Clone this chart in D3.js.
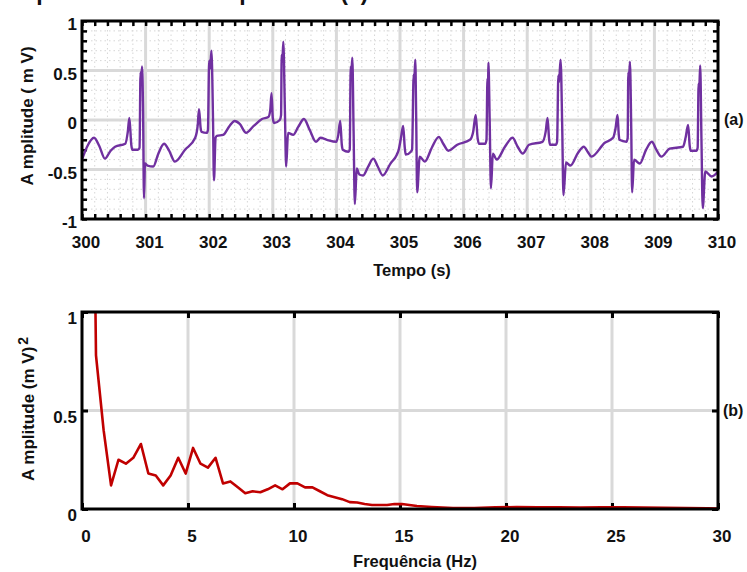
<!DOCTYPE html>
<html>
<head>
<meta charset="utf-8">
<script src="https://cdn.jsdelivr.net/npm/d3@7/dist/d3.min.js"></script>
<style>
  html, body { margin: 0; padding: 0; background: #fff; }
  svg { display: block; }
  text { font-family: "Liberation Sans", Arial, sans-serif; font-weight: bold; fill: #111; }
</style>
</head>
<body>
<svg id="chart" width="747" height="572"></svg>
<script>
// ECG segment, 300–310 s (mV)
const ecgTime = [
  300.00, 300.08, 300.19, 300.27, 300.36, 300.45, 300.52, 300.68, 300.72, 300.745,
  300.775, 300.79, 300.88, 300.905, 300.92, 300.93, 300.945, 300.96, 300.975, 300.99,
  301.03, 301.12, 301.20, 301.29, 301.37, 301.46, 301.62, 301.78, 301.82, 301.84,
  301.865, 301.88, 301.96, 301.98, 302.00, 302.015, 302.035, 302.06, 302.075, 302.10,
  302.12, 302.22, 302.32, 302.40, 302.48, 302.58, 302.70, 302.83, 302.93, 302.96,
  302.98, 303.00, 303.02, 303.11, 303.13, 303.14, 303.15, 303.165, 303.19, 303.21,
  303.24, 303.32, 303.40, 303.49, 303.58, 303.68, 303.75, 303.85, 304.00, 304.03,
  304.06, 304.085, 304.10, 304.19, 304.21, 304.225, 304.235, 304.25, 304.27, 304.29,
  304.32, 304.36, 304.42, 304.50, 304.58, 304.65, 304.73, 304.85, 304.95, 304.98,
  305.01, 305.05, 305.075, 305.09, 305.17, 305.19, 305.215, 305.225, 305.24, 305.255,
  305.27, 305.31, 305.39, 305.50, 305.61, 305.68, 305.76, 305.90, 306.10, 306.15,
  306.19, 306.22, 306.24, 306.34, 306.36, 306.375, 306.385, 306.39, 306.41, 306.43,
  306.46, 306.52, 306.65, 306.77, 306.85, 306.93, 307.03, 307.24, 307.29, 307.32,
  307.345, 307.36, 307.45, 307.47, 307.49, 307.50, 307.525, 307.55, 307.57, 307.61,
  307.68, 307.80, 307.89, 307.95, 308.01, 308.22, 308.35, 308.39, 308.42, 308.44,
  308.45, 308.56, 308.58, 308.59, 308.60, 308.615, 308.635, 308.65, 308.68, 308.77,
  308.87, 308.96, 309.03, 309.11, 309.24, 309.45, 309.49, 309.53, 309.555, 309.57,
  309.66, 309.68, 309.695, 309.705, 309.72, 309.74, 309.76, 309.80, 309.90, 310.00
];
const ecgAmplitude = [
  -0.40, -0.27, -0.18, -0.26, -0.39, -0.31, -0.27, -0.24, -0.12, 0.02,
  -0.25, -0.30, -0.30, -0.28, 0.48, 0.40, 0.54, 0.10, -0.79, -0.44,
  -0.46, -0.47, -0.34, -0.24, -0.31, -0.42, -0.30, -0.18, -0.05, 0.11,
  -0.08, -0.12, -0.13, -0.10, 0.60, 0.52, 0.70, 0.00, -0.61, -0.18,
  -0.16, -0.15, -0.06, -0.01, -0.04, -0.13, -0.06, 0.01, 0.03, 0.10,
  0.27, 0.02, -0.03, 0.00, 0.05, 0.66, 0.58, 0.79, 0.10, -0.47,
  -0.13, -0.15, -0.07, 0.01, -0.10, -0.22, -0.18, -0.20, -0.22, -0.15,
  -0.01, -0.25, -0.30, -0.32, -0.30, 0.54, 0.46, 0.63, -0.10, -0.85,
  -0.49, -0.55, -0.56, -0.47, -0.39, -0.47, -0.56, -0.44, -0.35, -0.30,
  -0.20, -0.06, -0.28, -0.35, -0.32, -0.30, 0.46, 0.40, 0.61, 0.00,
  -0.73, -0.37, -0.42, -0.28, -0.17, -0.24, -0.31, -0.25, -0.20, -0.12,
  0.05, -0.18, -0.24, -0.24, -0.20, 0.42, 0.36, 0.58, 0.00, -0.69,
  -0.34, -0.40, -0.27, -0.18, -0.27, -0.34, -0.25, -0.22, -0.12, 0.02,
  -0.20, -0.25, -0.25, -0.22, 0.45, 0.38, 0.61, -0.05, -0.76, -0.43,
  -0.46, -0.33, -0.27, -0.32, -0.37, -0.23, -0.18, -0.08, 0.05, -0.15,
  -0.20, -0.22, -0.18, 0.48, 0.40, 0.59, -0.05, -0.73, -0.40, -0.44,
  -0.30, -0.22, -0.30, -0.37, -0.29, -0.27, -0.18, -0.05, -0.26, -0.31,
  -0.31, -0.28, 0.37, 0.32, 0.55, -0.20, -0.89, -0.52, -0.57, -0.52
];

// Power spectrum of the segment
const spectrumFreq = [
  0.31, 0.66, 1.02, 1.37, 1.72, 2.07, 2.42, 2.78, 3.13, 3.48,
  3.83, 4.18, 4.54, 4.89, 5.24, 5.59, 5.94, 6.30, 6.65, 7.00,
  7.35, 7.70, 8.05, 8.41, 8.76, 9.11, 9.46, 9.81, 10.16, 10.52,
  10.87, 11.22, 11.57, 11.92, 12.27, 12.63, 12.98, 13.33, 13.68, 14.03,
  14.39, 14.74, 15.09, 15.44, 15.80, 16.5, 17.5, 18.5, 19.5, 20.5,
  21.5, 22.5, 23.5, 24.5, 25.5, 26.5, 27.5, 28.5, 29.5, 30.0
];
const spectrumPower = [
  4.0, 0.78, 0.40, 0.12, 0.25, 0.23, 0.26, 0.33, 0.18, 0.17,
  0.12, 0.17, 0.26, 0.18, 0.31, 0.23, 0.21, 0.26, 0.13, 0.14,
  0.11, 0.08, 0.09, 0.085, 0.10, 0.12, 0.10, 0.13, 0.13, 0.11,
  0.11, 0.09, 0.07, 0.06, 0.05, 0.035, 0.033, 0.025, 0.02, 0.02,
  0.02, 0.025, 0.025, 0.02, 0.015, 0.01, 0.005, 0.005, 0.008, 0.01,
  0.008, 0.008, 0.007, 0.008, 0.008, 0.007, 0.006, 0.005, 0.003, 0.002
];

// Tick values and labels
const timeTicks = [300, 301, 302, 303, 304, 305, 306, 307, 308, 309, 310];
const ampTicks = [-1, -0.5, 0, 0.5, 1];
const ampTickLabels = ["-1", "-0.5", "0", "0.5", "1"];
const freqTicks = [0, 5, 10, 15, 20, 25, 30];
const powerTicks = [0, 0.5, 1];
const powerTickLabels = ["0", "0.5", "1"];

const titleText = "Espectro do sinal de potência (a)";
const topTitleX = "Tempo (s)";
const topTitleY = "A mplitude ( m V)";
const bottomTitleX = "Frequência (Hz)";
const bottomTitleY = "A mplitude (m V)";

const svg = d3.select("#chart");
const ecgColor = "#7030a0";
const specColor = "#c00000";
const gridColor = "#d9d9d9";

// Title, mostly above the visible area
svg.append("text").attr("x", 8).attr("y", -0.5)
  .style("font-size", "23px").text(titleText);

function frame(g, x0, x1, y0, y1) {
  g.append("rect").attr("x", x0).attr("y", y0)
    .attr("width", x1 - x0).attr("height", y1 - y0)
    .attr("fill", "none").attr("stroke", "#000").attr("stroke-width", 3);
}

function styleTicks(sel, w) {
  sel.select(".domain").remove();
  sel.selectAll(".tick line").attr("stroke", "#000").attr("stroke-width", w);
  sel.selectAll(".tick text").remove();
}

// ---------- (a) ECG in time ----------
{
  const x = d3.scaleLinear().domain([300, 310]).range([82, 718]);
  const y = d3.scaleLinear().domain([-1, 1]).range([219, 21]);
  const g = svg.append("g");

  const minorX = d3.range(300, 310.001, 0.2).filter(v => Math.abs(v - Math.round(v)) > 0.01);
  const minorY = d3.range(-1, 1.001, 0.1).filter(v => Math.abs(v * 2 - Math.round(v * 2)) > 0.01);

  // dotted minor grid
  g.append("g").selectAll("line.mx").data(minorX).join("line")
    .attr("x1", d => x(d)).attr("x2", d => x(d)).attr("y1", y(1)).attr("y2", y(-1))
    .attr("stroke", "#d6d6d6").attr("stroke-width", 1).attr("stroke-dasharray", "1.5 3");
  g.append("g").selectAll("line.my").data(minorY).join("line")
    .attr("x1", x(300)).attr("x2", x(310)).attr("y1", d => y(d)).attr("y2", d => y(d))
    .attr("stroke", "#d6d6d6").attr("stroke-width", 1).attr("stroke-dasharray", "1.5 3");

  // major grid
  g.append("g").selectAll("line").data(timeTicks.slice(1, -1)).join("line")
    .attr("x1", d => x(d)).attr("x2", d => x(d)).attr("y1", y(1)).attr("y2", y(-1))
    .attr("stroke", gridColor).attr("stroke-width", 3);
  g.append("g").selectAll("line").data(ampTicks.slice(1, -1)).join("line")
    .attr("x1", x(300)).attr("x2", x(310)).attr("y1", d => y(d)).attr("y2", d => y(d))
    .attr("stroke", gridColor).attr("stroke-width", 3);

  // inward ticks on all four sides
  const allX = timeTicks.concat(minorX);
  const allY = ampTicks.concat(minorY);
  g.append("g").attr("transform", `translate(0,${y(-1)})`)
    .call(d3.axisBottom(x).tickValues(allX).tickSize(-5)).call(s => styleTicks(s, 2.5));
  g.append("g").attr("transform", `translate(0,${y(1)})`)
    .call(d3.axisTop(x).tickValues(allX).tickSize(-5)).call(s => styleTicks(s, 2.5));
  g.append("g").attr("transform", `translate(${x(300)},0)`)
    .call(d3.axisLeft(y).tickValues(allY).tickSize(-5)).call(s => styleTicks(s, 2.5));
  g.append("g").attr("transform", `translate(${x(310)},0)`)
    .call(d3.axisRight(y).tickValues(allY).tickSize(-5)).call(s => styleTicks(s, 2.5));

  g.append("clipPath").attr("id", "clipA").append("rect")
    .attr("x", 82).attr("y", 21).attr("width", 636).attr("height", 198);

  const line = d3.line().curve(d3.curveMonotoneX)
    .x(i => x(ecgTime[i])).y(i => y(ecgAmplitude[i]));
  g.append("path").attr("clip-path", "url(#clipA)")
    .attr("d", line(d3.range(ecgTime.length)))
    .attr("fill", "none").attr("stroke", ecgColor).attr("stroke-width", 2.4)
    .attr("stroke-linejoin", "round");

  frame(g, 82, 718, 21, 219);

  // tick labels
  g.append("g").selectAll("text").data(timeTicks).join("text")
    .attr("x", d => x(d) + 4).attr("y", 248).attr("text-anchor", "middle")
    .style("font-size", "17px").text(d => d);
  g.append("g").selectAll("text").data(ampTicks).join("text")
    .attr("x", 77).attr("y", d => y(d) + 9).attr("text-anchor", "end")
    .style("font-size", "17px").text((d, i) => ampTickLabels[i]);

  g.append("text").attr("x", 412).attr("y", 276).attr("text-anchor", "middle")
    .style("font-size", "16.5px").text(topTitleX);
  g.append("text").attr("transform", "translate(33,116) rotate(-90)")
    .attr("text-anchor", "middle").style("font-size", "17px").text(topTitleY);
  g.append("text").attr("x", 724).attr("y", 125).style("font-size", "16px").text("(a)");
}

// ---------- (b) spectrum ----------
{
  const x = d3.scaleLinear().domain([0, 30]).range([82, 718]);
  const y = d3.scaleLinear().domain([0, 1]).range([509, 312]);
  const g = svg.append("g");

  g.append("g").selectAll("line").data(freqTicks.slice(1, -1)).join("line")
    .attr("x1", d => x(d)).attr("x2", d => x(d)).attr("y1", y(1)).attr("y2", y(0))
    .attr("stroke", gridColor).attr("stroke-width", 3);
  g.append("g").selectAll("line").data(powerTicks.slice(1, -1)).join("line")
    .attr("x1", x(0)).attr("x2", x(30)).attr("y1", d => y(d)).attr("y2", d => y(d))
    .attr("stroke", gridColor).attr("stroke-width", 3);

  g.append("g").attr("transform", `translate(0,${y(0)})`)
    .call(d3.axisBottom(x).tickValues(freqTicks).tickSize(-6)).call(s => styleTicks(s, 3));
  g.append("g").attr("transform", `translate(0,${y(1)})`)
    .call(d3.axisTop(x).tickValues(freqTicks).tickSize(-6)).call(s => styleTicks(s, 3));
  g.append("g").attr("transform", `translate(${x(0)},0)`)
    .call(d3.axisLeft(y).tickValues(powerTicks).tickSize(-6)).call(s => styleTicks(s, 3));
  g.append("g").attr("transform", `translate(${x(30)},0)`)
    .call(d3.axisRight(y).tickValues(powerTicks).tickSize(-6)).call(s => styleTicks(s, 3));

  g.append("clipPath").attr("id", "clipB").append("rect")
    .attr("x", 82).attr("y", 312).attr("width", 636).attr("height", 197);

  const line = d3.line().x(i => x(spectrumFreq[i])).y(i => y(spectrumPower[i]));
  g.append("path").attr("clip-path", "url(#clipB)")
    .attr("d", line(d3.range(spectrumFreq.length)))
    .attr("fill", "none").attr("stroke", specColor).attr("stroke-width", 2.6)
    .attr("stroke-linejoin", "round");

  frame(g, 82, 718, 312, 509);

  g.append("g").selectAll("text").data(freqTicks).join("text")
    .attr("x", d => x(d) + 4).attr("y", 542).attr("text-anchor", "middle")
    .style("font-size", "17px").text(d => d);
  g.append("g").selectAll("text").data(powerTicks).join("text")
    .attr("x", 77).attr("y", d => y(d) + 12).attr("text-anchor", "end")
    .style("font-size", "17px").text((d, i) => powerTickLabels[i]);

  g.append("text").attr("x", 415).attr("y", 567).attr("text-anchor", "middle")
    .style("font-size", "16.5px").text(bottomTitleX);
  const yt = g.append("text").attr("transform", "translate(34,409) rotate(-90)")
    .attr("text-anchor", "middle").style("font-size", "17px");
  yt.append("tspan").text(bottomTitleY);
  yt.append("tspan").attr("dx", 2).attr("dy", -6).style("font-size", "14px").text("2");
  g.append("text").attr("x", 723).attr("y", 416).style("font-size", "16px").text("(b)");
}
</script>
</body>
</html>
